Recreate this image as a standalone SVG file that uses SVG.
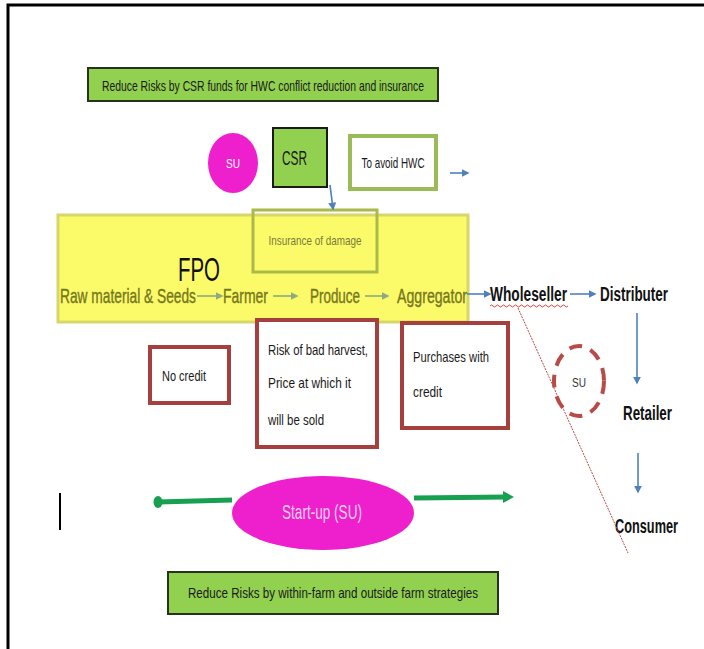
<svg xmlns="http://www.w3.org/2000/svg" width="704" height="649" viewBox="0 0 704 649">
<defs>
<style>
text{font-family:"Liberation Sans",Arial,sans-serif;}
.gbox{fill:#92D050;stroke:#26331A;stroke-width:2;}
.rbox{fill:#fff;stroke:#A5403F;stroke-width:4;}
.sm{font-size:14.5px;fill:#1a1a1a;}
.chain{font-size:21px;fill:#77771E;stroke:#77771E;stroke-width:0.4;}
.blk{font-size:20px;fill:#111;font-weight:bold;}
.blue{stroke:#4F81BD;stroke-width:1.6;fill:none;marker-end:url(#ab);}
.gray{stroke:#8FAA82;stroke-width:1.6;fill:none;marker-end:url(#ag);}
</style>
<marker id="ab" viewBox="0 0 10 10" refX="8" refY="5" markerWidth="5" markerHeight="5" orient="auto"><path d="M0,0L10,5L0,10z" fill="#4F81BD"/></marker>
<marker id="ag" viewBox="0 0 10 10" refX="8" refY="5" markerWidth="5" markerHeight="5" orient="auto"><path d="M0,0L10,5L0,10z" fill="#8FAA82"/></marker>
</defs>
<rect width="704" height="649" fill="#fff"/>
<path d="M8,649V5H704" fill="none" stroke="#000" stroke-width="3"/>

<g id="top-box"><rect class="gbox" x="88" y="68" width="350" height="33"/>
<text class="sm" x="263" y="91" text-anchor="middle" textLength="322" lengthAdjust="spacingAndGlyphs">Reduce Risks by CSR funds for HWC conflict reduction and insurance</text></g>

<g id="su-top"><ellipse cx="233" cy="163" rx="25" ry="30" fill="#EE1FCC"/>
<text x="233" y="168" font-size="13" fill="#fff" text-anchor="middle" textLength="14" lengthAdjust="spacingAndGlyphs">SU</text></g>

<g id="csr"><rect x="273" y="128" width="54" height="59" fill="#92D050" stroke="#1a1a1a" stroke-width="2"/>
<text x="282" y="165" font-size="21" fill="#1a1a1a" textLength="25" lengthAdjust="spacingAndGlyphs">CSR</text></g>

<g id="avoid"><rect x="350" y="136" width="86" height="53" fill="#fff" stroke="#9BBB59" stroke-width="4"/>
<text class="sm" x="393" y="168" text-anchor="middle" textLength="63" lengthAdjust="spacingAndGlyphs">To avoid HWC</text></g>

<g id="fpo"><rect x="58" y="215" width="410" height="107" fill="#FBFB6A" stroke="#D6D66A" stroke-width="3"/>
<text x="178" y="281" font-size="33" fill="#111" textLength="42" lengthAdjust="spacingAndGlyphs">FPO</text></g>

<g id="insurance"><rect x="253" y="210" width="124" height="62" fill="none" stroke="#A9BA4A" stroke-width="3"/>
<text x="315" y="245" font-size="13.5" fill="#7A7A3A" text-anchor="middle" textLength="93" lengthAdjust="spacingAndGlyphs">Insurance of damage</text></g>

<g id="raw"><text class="chain" x="60" y="303" textLength="136" lengthAdjust="spacingAndGlyphs">Raw material &amp; Seeds</text></g>
<g id="farmer"><text class="chain" x="223" y="303" textLength="45" lengthAdjust="spacingAndGlyphs">Farmer</text></g>
<g id="produce"><text class="chain" x="310" y="303" textLength="50" lengthAdjust="spacingAndGlyphs">Produce</text></g>
<g id="aggregator"><text class="chain" x="397" y="303" textLength="70" lengthAdjust="spacingAndGlyphs">Aggregator</text></g>
<g id="wholeseller"><text class="blk" x="490" y="301" textLength="77" lengthAdjust="spacingAndGlyphs">Wholeseller</text>
<path d="M490,306q1.5,-2 3,0t3,0t3,0t3,0t3,0t3,0t3,0t3,0t3,0t3,0t3,0t3,0t3,0t3,0t3,0t3,0t3,0t3,0t3,0t3,0t3,0t3,0t3,0t3,0t3,0t3,0" fill="none" stroke="#E04040" stroke-width="1"/></g>
<g id="distributer"><text class="blk" x="600" y="301" textLength="68" lengthAdjust="spacingAndGlyphs">Distributer</text></g>
<g id="retailer"><text class="blk" x="623" y="420" textLength="49" lengthAdjust="spacingAndGlyphs">Retailer</text></g>
<g id="consumer"><text class="blk" x="615" y="533" textLength="63" lengthAdjust="spacingAndGlyphs">Consumer</text></g>

<g id="su-dashed"><ellipse cx="579" cy="381" rx="25" ry="35" fill="none" stroke="#B84A48" stroke-width="4" stroke-dasharray="13,9"/>
<text x="579" y="387" font-size="13" fill="#333" text-anchor="middle" textLength="14" lengthAdjust="spacingAndGlyphs">SU</text></g>

<g id="no-credit"><rect class="rbox" x="150" y="347" width="79" height="56"/>
<text class="sm" x="162" y="381" textLength="44" lengthAdjust="spacingAndGlyphs">No credit</text></g>

<g id="risk"><rect class="rbox" x="257" y="320" width="120" height="127"/>
<text class="sm" x="268" y="355" textLength="100" lengthAdjust="spacingAndGlyphs">Risk of bad harvest,</text>
<text class="sm" x="268" y="388" textLength="83" lengthAdjust="spacingAndGlyphs">Price at which it</text>
<text class="sm" x="268" y="425" textLength="56" lengthAdjust="spacingAndGlyphs">will be sold</text></g>

<g id="purchases"><rect class="rbox" x="402" y="323" width="106" height="105"/>
<text class="sm" x="413" y="362" textLength="76" lengthAdjust="spacingAndGlyphs">Purchases with</text>
<text class="sm" x="413" y="397" textLength="29" lengthAdjust="spacingAndGlyphs">credit</text></g>

<g id="startup"><ellipse cx="323" cy="513" rx="91" ry="37" fill="#EE1FCC"/>
<text x="322" y="519" font-size="21" fill="#F8D2F2" text-anchor="middle" textLength="80" lengthAdjust="spacingAndGlyphs">Start-up (SU)</text></g>

<g id="bottom-box"><rect class="gbox" x="168" y="572" width="330" height="42"/>
<text class="sm" x="333" y="598" text-anchor="middle" textLength="290" lengthAdjust="spacingAndGlyphs">Reduce Risks by within-farm and outside farm strategies</text></g>

<g id="cursor"><line x1="60" y1="493" x2="60" y2="530" stroke="#000" stroke-width="2"/></g>

<g id="connectors">
<path class="blue" d="M330,185L333,209"/>
<path class="blue" d="M450,173H468"/>
<path class="gray" d="M197,296H222"/>
<path class="gray" d="M273,296H297"/>
<path class="gray" d="M365,296H388"/>
<path class="blue" d="M467,294H490"/>
<path class="blue" d="M570,294H595"/>
<path class="blue" d="M637,313V383"/>
<path class="blue" d="M638,453V492"/>
<path d="M518,308L628,553" stroke="#B84A48" stroke-width="1" stroke-dasharray="2,1" fill="none"/>
<path d="M158,502L232,500M414,498L507,497" stroke="#16A050" stroke-width="5" fill="none"/>
<path d="M503,491L514,497L503,503z" fill="#16A050"/>
<ellipse cx="158" cy="502" rx="4.5" ry="6" fill="#16A050"/>
</g>
</svg>
